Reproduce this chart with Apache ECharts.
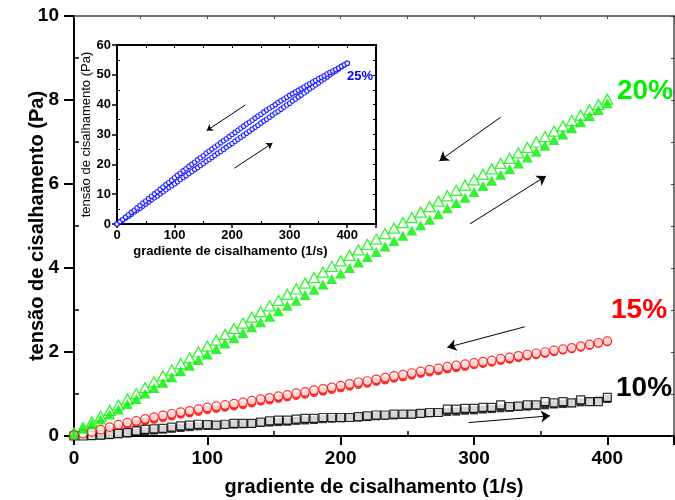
<!DOCTYPE html>
<html>
<head>
<meta charset="utf-8">
<script src="https://cdn.jsdelivr.net/npm/echarts@6/dist/echarts.min.js"></script>
<style>html,body{margin:0;padding:0;background:#fff}#c{width:675px;height:500px}</style>
</head>
<body>
<div id="c"></div>
<script>
// shear rate (1/s) for main chart series
var xMain = [0,6.7,13.3,20,26.7,33.3,40,46.7,53.3,60,
  66.7,73.3,80,86.7,93.3,100,106.7,113.3,120,126.7,
  133.3,140,146.7,153.3,160,166.7,173.3,180,186.7,193.3,
  200,206.7,213.3,220,226.7,233.3,240,246.7,253.3,260,
  266.7,273.3,280,286.7,293.3,300,306.7,313.3,320,326.7,
  333.3,340,346.7,353.3,360,366.7,373.3,380,386.7,393.3,
  400];
// 20% (down sweep, open triangles)
var g20Down = [0.08,0.2,0.33,0.47,0.61,0.74,0.88,1.01,1.15,1.29,
  1.43,1.57,1.72,1.86,2.0,2.14,2.28,2.42,2.56,2.69,
  2.83,2.96,3.1,3.23,3.37,3.5,3.64,3.77,3.9,4.04,
  4.17,4.3,4.43,4.56,4.69,4.82,4.95,5.08,5.2,5.33,
  5.46,5.59,5.72,5.85,5.97,6.1,6.23,6.36,6.49,6.61,
  6.74,6.87,7.0,7.13,7.26,7.38,7.51,7.64,7.77,7.89,
  8.02];
// 20% (up sweep, filled triangles)
var g20Up = [0.05,0.17,0.28,0.39,0.51,0.63,0.76,0.88,1.01,1.14,
  1.27,1.4,1.54,1.67,1.81,1.94,2.07,2.2,2.33,2.45,
  2.59,2.71,2.84,2.97,3.1,3.22,3.36,3.48,3.61,3.74,
  3.87,4.0,4.13,4.26,4.38,4.51,4.64,4.77,4.89,5.02,
  5.15,5.28,5.42,5.55,5.67,5.81,5.95,6.08,6.22,6.35,
  6.49,6.63,6.77,6.91,7.05,7.18,7.33,7.47,7.62,7.76,
  7.92];
// 15%
var r15Down = [0.02,0.06,0.1,0.15,0.21,0.27,0.32,0.36,0.41,0.45,
  0.49,0.53,0.57,0.6,0.64,0.68,0.71,0.74,0.77,0.8,
  0.84,0.88,0.91,0.95,0.98,1.02,1.05,1.09,1.12,1.16,
  1.2,1.24,1.28,1.31,1.35,1.39,1.43,1.46,1.5,1.54,
  1.58,1.61,1.65,1.68,1.71,1.74,1.77,1.8,1.84,1.87,
  1.91,1.94,1.97,2.0,2.04,2.07,2.1,2.14,2.18,2.22,
  2.26];
var r15Up = [0.0,0.03,0.07,0.11,0.16,0.21,0.26,0.3,0.35,0.39,
  0.43,0.47,0.51,0.54,0.58,0.62,0.65,0.68,0.71,0.74,
  0.78,0.82,0.85,0.89,0.92,0.96,0.99,1.03,1.06,1.1,
  1.14,1.18,1.22,1.25,1.29,1.33,1.37,1.4,1.44,1.48,
  1.52,1.55,1.59,1.62,1.65,1.69,1.72,1.75,1.79,1.82,
  1.86,1.9,1.93,1.96,2.0,2.04,2.07,2.11,2.15,2.2,
  2.24];
// 10%
var k10Down = [0.0,0.0,0.01,0.02,0.04,0.06,0.08,0.12,0.16,0.17,
  0.18,0.21,0.24,0.26,0.28,0.27,0.26,0.28,0.3,0.3,
  0.3,0.33,0.36,0.38,0.38,0.4,0.42,0.42,0.44,0.44,
  0.44,0.44,0.46,0.48,0.5,0.5,0.52,0.52,0.52,0.54,
  0.56,0.56,0.64,0.64,0.66,0.66,0.68,0.68,0.74,0.7,
  0.71,0.74,0.74,0.82,0.79,0.82,0.79,0.86,0.82,0.82,
  0.92];
var k10Up = [0.0,0.0,0.0,0.01,0.02,0.04,0.06,0.08,0.11,0.13,
  0.15,0.17,0.19,0.21,0.23,0.24,0.25,0.26,0.27,0.28,
  0.29,0.31,0.32,0.33,0.34,0.36,0.37,0.38,0.4,0.41,
  0.42,0.43,0.44,0.45,0.47,0.48,0.49,0.5,0.51,0.53,
  0.54,0.55,0.57,0.58,0.6,0.61,0.63,0.64,0.66,0.67,
  0.69,0.7,0.72,0.73,0.75,0.76,0.78,0.8,0.82,0.84,
  0.88];
// inset 25%
var xInset = [0,5,10,15,20,25,30,35,40,45,50,55,60,65,70,75,80,85,90,95,
  100,105,110,115,120,125,130,135,140,145,150,155,160,165,170,175,180,185,190,195,
  200,205,210,215,220,225,230,235,240,245,250,255,260,265,270,275,280,285,290,295,
  300,305,310,315,320,325,330,335,340,345,350,355,360,365,370,375,380,385,390,395,
  400];
var b25Down = [0,0.8,1.5,2.3,3.1,3.9,4.6,5.4,6.2,7.0,7.7,8.5,
  9.3,10.1,10.8,11.6,12.4,13.2,13.9,14.7,15.5,16.3,17.0,
  17.8,18.5,19.3,20.0,20.7,21.5,22.2,22.9,23.7,24.4,
  25.1,25.8,26.5,27.2,27.9,28.6,29.3,30.0,30.7,31.4,32.1,32.8,
  33.5,34.1,34.8,35.5,36.2,36.8,37.5,38.2,
  38.8,39.4,40.0,40.7,41.3,41.9,42.5,43.1,
  43.7,44.2,44.8,45.3,45.9,46.5,47.0,47.6,48.1,48.7,
  49.2,49.7,50.3,50.8,51.3,51.8,52.3,52.9,53.4,53.9];
var b25Up = [0,0.6,1.3,2.0,2.6,3.3,4.0,4.7,5.3,6.0,6.7,7.4,8.1,8.8,9.4,10.1,10.8,11.5,12.2,12.8,
  13.5,14.2,14.9,15.6,16.2,16.9,17.6,18.3,18.9,19.6,20.3,21.0,21.6,22.3,23.0,23.7,24.3,25.0,25.7,26.4,
  27.0,27.7,28.4,29.1,29.7,30.4,31.1,31.8,32.4,33.1,33.8,34.5,35.1,35.8,36.5,37.2,37.8,38.5,39.2,39.9,
  40.5,41.2,41.9,42.6,43.2,43.9,44.6,45.3,45.9,46.6,47.3,48.0,48.6,49.3,50.0,50.7,51.3,52.0,52.7,53.3,
  53.9];
var mainXTicks = [0,100,200,300,400];

var FONT = 'Liberation Sans, Arial, Helvetica, sans-serif';
function zip(xs, ys){ return xs.map(function(x,i){ return [x, ys[i]]; }); }

var arrowStyle = {color:'#000', width:1, type:'solid'};
function arrow(x1,y1,x2,y2){ return [{coord:[x1,y1]},{coord:[x2,y2]}]; }

var chart = echarts.init(document.getElementById('c'), null, {renderer:'canvas'});
var noSplit = {show:false};
chart.setOption({
  animation:false,
  backgroundColor:'#fff',
  grid:[
    {left:74, top:16, right:1, bottom:64, containLabel:false, outerBoundsMode:'none'},
    {left:117, top:45, width:259, height:179, containLabel:false, outerBoundsMode:'none'}
  ],
  xAxis:[
    {gridIndex:0, type:'value', position:'bottom', min:0, max:450, interval:100,
     axisLine:{show:true, onZero:false, lineStyle:{color:'#000', width:2}},
     axisTick:{show:true, inside:false, length:9, lineStyle:{color:'#000', width:2}},
     axisLabel:{show:true, margin:13, color:'#000', fontSize:19, fontWeight:'bold', fontFamily:FONT,
       formatter:function(v){ return mainXTicks.indexOf(v) >= 0 ? String(v) : ''; }},
     splitLine:noSplit,
     name:'gradiente de cisalhamento (1/s)', nameLocation:'middle', nameGap:41, nameMoveOverlap:false,
     nameTextStyle:{color:'#000', fontSize:20, fontWeight:'bold', fontFamily:FONT}},
    {gridIndex:0, type:'value', position:'bottom', min:0, max:450, interval:100,
     axisLine:{show:false}, axisLabel:{show:false}, splitLine:noSplit,
     axisTick:{show:false, inside:true},
     minorTick:{show:true, splitNumber:2, length:5, lineStyle:{color:'#000', width:1.5}}},
    {gridIndex:0, type:'value', position:'top', min:0, max:450, interval:50,
     axisLine:{show:true, onZero:false, lineStyle:{color:'#444', width:1.5}},
     axisTick:{show:true, inside:true, length:3, lineStyle:{color:'#444', width:1}},
     axisLabel:{show:false}, splitLine:noSplit},
    {gridIndex:1, type:'value', position:'bottom', min:0, max:450, interval:100,
     axisLine:{show:true, onZero:false, lineStyle:{color:'#000', width:2}},
     axisTick:{show:true, inside:false, length:4, lineStyle:{color:'#000', width:1.5}},
     axisLabel:{show:true, margin:5, color:'#000', fontSize:13, fontWeight:'bold', fontFamily:FONT,
       formatter:function(v){ return v <= 400 ? String(v) : ''; }},
     splitLine:noSplit,
     name:'gradiente de cisalhamento (1/s)', nameLocation:'middle', nameGap:21, nameMoveOverlap:false,
     nameTextStyle:{color:'#000', fontSize:13, fontWeight:'bold', fontFamily:FONT, padding:[0,32,0,0]}},
    {gridIndex:1, type:'value', position:'bottom', min:0, max:450, interval:100,
     axisLine:{show:false}, axisLabel:{show:false}, splitLine:noSplit,
     axisTick:{show:false, inside:true},
     minorTick:{show:true, splitNumber:2, length:3, lineStyle:{color:'#000', width:1}}},
    {gridIndex:1, type:'value', position:'top', min:0, max:450, interval:50,
     axisLine:{show:true, onZero:false, lineStyle:{color:'#000', width:2}},
     axisTick:{show:true, inside:true, length:3, lineStyle:{color:'#000', width:1}},
     axisLabel:{show:false}, splitLine:noSplit}
  ],
  yAxis:[
    {gridIndex:0, type:'value', position:'left', min:0, max:10, interval:2,
     axisLine:{show:true, onZero:false, lineStyle:{color:'#000', width:2}},
     axisTick:{show:true, inside:false, length:10, lineStyle:{color:'#000', width:2}},
     axisLabel:{show:true, margin:15, color:'#000', fontSize:19, fontWeight:'bold', fontFamily:FONT},
     splitLine:noSplit,
     name:'tensão de cisalhamento (Pa)', nameLocation:'middle', nameGap:27, nameMoveOverlap:false,
     nameTextStyle:{color:'#000', fontSize:20, fontWeight:'bold', fontFamily:FONT}},
    {gridIndex:0, type:'value', position:'left', min:0, max:10, interval:2,
     axisLine:{show:false}, axisLabel:{show:false}, splitLine:noSplit,
     axisTick:{show:false, inside:true},
     minorTick:{show:true, splitNumber:2, length:5, lineStyle:{color:'#000', width:1.5}}},
    {gridIndex:0, type:'value', position:'right', min:0, max:10, interval:1,
     axisLine:{show:true, onZero:false, lineStyle:{color:'#444', width:1.5}},
     axisTick:{show:true, inside:true, length:3, lineStyle:{color:'#444', width:1}},
     axisLabel:{show:false}, splitLine:noSplit},
    {gridIndex:1, type:'value', position:'left', min:0, max:60, interval:10,
     axisLine:{show:true, onZero:false, lineStyle:{color:'#000', width:2}},
     axisTick:{show:true, inside:false, length:5, lineStyle:{color:'#000', width:1.5}},
     axisLabel:{show:true, margin:6, color:'#000', fontSize:13, fontWeight:'bold', fontFamily:FONT},
     splitLine:noSplit,
     name:'tensão de cisalhamento (Pa)', nameLocation:'middle', nameGap:24, nameMoveOverlap:false,
     nameTextStyle:{color:'#000', fontSize:13, fontWeight:'normal', fontFamily:FONT}},
    {gridIndex:1, type:'value', position:'left', min:0, max:60, interval:10,
     axisLine:{show:false}, axisLabel:{show:false}, splitLine:noSplit,
     axisTick:{show:false, inside:true},
     minorTick:{show:true, splitNumber:2, length:3, lineStyle:{color:'#000', width:1}}},
    {gridIndex:1, type:'value', position:'right', min:0, max:60, interval:5,
     axisLine:{show:true, onZero:false, lineStyle:{color:'#000', width:2}},
     axisTick:{show:true, inside:true, length:3, lineStyle:{color:'#000', width:1}},
     axisLabel:{show:false}, splitLine:noSplit}
  ],
  series:[
    {type:'scatter', name:'10% up', xAxisIndex:0, yAxisIndex:0, data:zip(xMain,k10Up),
     symbol:'rect', symbolSize:8, itemStyle:{color:'#000'}, z:2},
    {type:'scatter', name:'10% down', xAxisIndex:0, yAxisIndex:0, data:zip(xMain,k10Down),
     symbol:'rect', symbolSize:8, itemStyle:{color:'#fff', borderColor:'#000', borderWidth:1.2}, z:3,
     markLine:{silent:true, symbol:['none','arrow'], symbolSize:9, label:{show:false}, lineStyle:arrowStyle,
       data:[arrow(296,0.32,357,0.48)]}},
    {type:'scatter', name:'15% up', xAxisIndex:0, yAxisIndex:0, data:zip(xMain,r15Up),
     symbol:'circle', symbolSize:8.5, itemStyle:{color:'#ff0000'}, z:2},
    {type:'scatter', name:'15% down', xAxisIndex:0, yAxisIndex:0, data:zip(xMain,r15Down),
     symbol:'circle', symbolSize:8.5, itemStyle:{color:'#fff', borderColor:'#ff0000', borderWidth:1.2}, z:3,
     markLine:{silent:true, symbol:['none','arrow'], symbolSize:9, label:{show:false}, lineStyle:arrowStyle,
       data:[arrow(338,2.60,280,2.11)]}},
    {type:'scatter', name:'20% down', xAxisIndex:0, yAxisIndex:0, data:zip(xMain,g20Down),
     symbol:'triangle', symbolSize:[11,10], itemStyle:{color:'#fff', borderColor:'#00f000', borderWidth:1.3}, z:2,
     markLine:{silent:true, symbol:['none','arrow'], symbolSize:9, label:{show:false}, lineStyle:arrowStyle,
       data:[arrow(320,7.59,274,6.55), arrow(297,5.05,354,6.19)]}},
    {type:'scatter', name:'20% up', xAxisIndex:0, yAxisIndex:0, data:zip(xMain,g20Up),
     symbol:'triangle', symbolSize:[11,10], itemStyle:{color:'#00f000'}, z:3},
    {type:'scatter', name:'25% up', xAxisIndex:3, yAxisIndex:3, data:zip(xInset,b25Up),
     symbol:'circle', symbolSize:4.5, itemStyle:{color:'#fff', borderColor:'#0000ff', borderWidth:1.1}, z:3,
     markLine:{silent:true, symbol:['none','arrow'], symbolSize:6, label:{show:false}, lineStyle:arrowStyle,
       data:[arrow(223,39.9,156,31.3), arrow(204,18.7,270,27.1)]}},
    {type:'scatter', name:'25% down', xAxisIndex:3, yAxisIndex:3, data:zip(xInset,b25Down),
     symbol:'circle', symbolSize:4.5, itemStyle:{color:'#fff', borderColor:'#0000ff', borderWidth:1.1}, z:3}
  ],
  graphic:[
    {type:'text', x:617, y:91, style:{text:'20%', fill:'#00f000', font:'bold 28px '+FONT, align:'left', verticalAlign:'middle'}},
    {type:'text', x:611, y:310, style:{text:'15%', fill:'#ff0000', font:'bold 28px '+FONT, align:'left', verticalAlign:'middle'}},
    {type:'text', x:616, y:388, style:{text:'10%', fill:'#000', font:'bold 28px '+FONT, align:'left', verticalAlign:'middle'}},
    {type:'text', x:347, y:76, style:{text:'25%', fill:'#0000ff', font:'bold 13px '+FONT, align:'left', verticalAlign:'middle'}}
  ]
});
</script>
</body>
</html>
